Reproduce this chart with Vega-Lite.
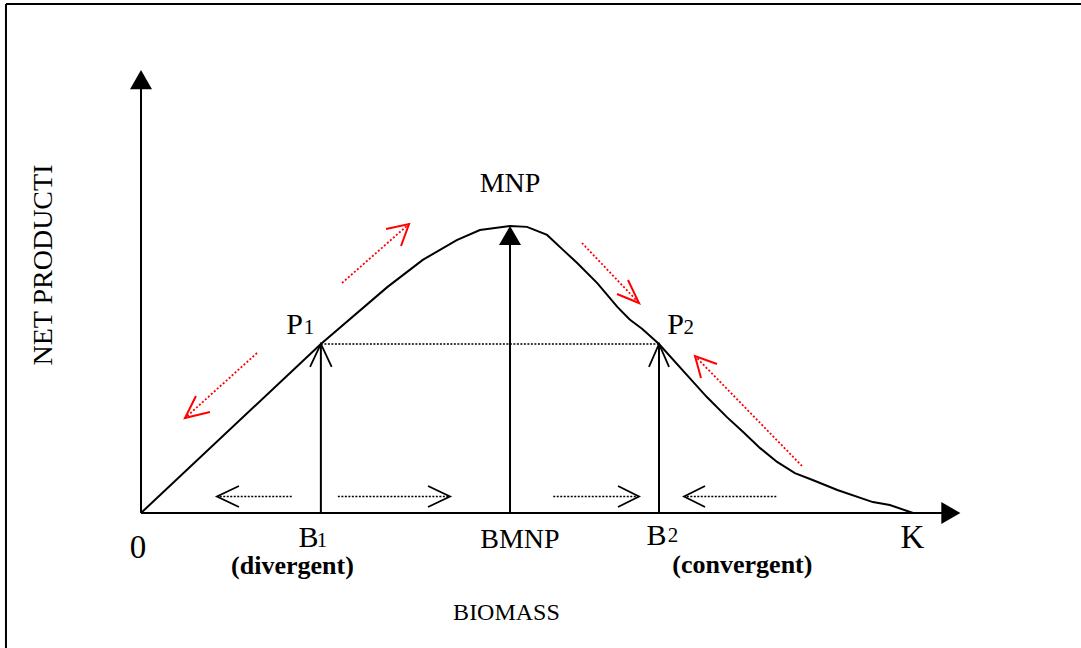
{
  "$schema": "https://vega.github.io/schema/vega-lite/v6.json",
  "width": 1081,
  "height": 648,
  "padding": 0,
  "autosize": {"type": "none"},
  "background": "white",
  "config": {"view": {"stroke": null}, "font": "Liberation Serif"},
  "datasets": {
    "curve": [
      {"biomass": 0, "production": 0},
      {"biomass": 23.3, "production": 58.9},
      {"biomass": 31.9, "production": 78.7},
      {"biomass": 36.5, "production": 88.2},
      {"biomass": 40.9, "production": 95.1},
      {"biomass": 43.9, "production": 98.6},
      {"biomass": 47.8, "production": 100},
      {"biomass": 50.0, "production": 99.7},
      {"biomass": 52.6, "production": 96.9},
      {"biomass": 54.7, "production": 91.6},
      {"biomass": 56.5, "production": 87.1},
      {"biomass": 59.1, "production": 80.1},
      {"biomass": 61.7, "production": 71.8},
      {"biomass": 63.3, "production": 67.4},
      {"biomass": 64.9, "production": 64.2},
      {"biomass": 67.1, "production": 58.9},
      {"biomass": 70.7, "production": 48.1},
      {"biomass": 73.3, "production": 40.4},
      {"biomass": 75.9, "production": 33.4},
      {"biomass": 78.0, "production": 28.2},
      {"biomass": 80.2, "production": 22.6},
      {"biomass": 82.4, "production": 17.8},
      {"biomass": 84.7, "production": 13.9},
      {"biomass": 87.0, "production": 11.5},
      {"biomass": 90.2, "production": 8.0},
      {"biomass": 94.8, "production": 3.8},
      {"biomass": 97.0, "production": 2.8},
      {"biomass": 100, "production": 0}
    ],
    "lines": [
      {"name": "frame top", "biomass": -17.49, "production": 177.35, "biomass2": 121.76, "production2": 177.35},
      {"name": "frame left", "biomass": -17.49, "production": -47.04, "biomass2": -17.49, "production2": 177.35},
      {"name": "y axis", "biomass": 0, "production": 0, "biomass2": 0, "production2": 147.7},
      {"name": "x axis", "biomass": 0, "production": 0, "biomass2": 103.8, "production2": 0},
      {"name": "B1", "biomass": 23.3, "production": 0, "biomass2": 23.3, "production2": 58.9},
      {"name": "BMNP", "biomass": 47.8, "production": 0, "biomass2": 47.8, "production2": 93.4},
      {"name": "B2", "biomass": 67.1, "production": 0, "biomass2": 67.1, "production2": 58.9}
    ],
    "heads": [
      {"name": "y axis", "biomass": 0, "production": 151.0, "dir": "up"},
      {"name": "x axis", "biomass": 104.9, "production": 0, "dir": "right"},
      {"name": "MNP", "biomass": 47.8, "production": 96.7, "dir": "up"}
    ],
    "chevrons": [
      {"arrow": "B1", "k": 0, "biomass": 21.9, "production": 50.9},
      {"arrow": "B1", "k": 1, "biomass": 23.3, "production": 58.9},
      {"arrow": "B1", "k": 2, "biomass": 24.7, "production": 50.9},
      {"arrow": "B2", "k": 0, "biomass": 65.8, "production": 50.9},
      {"arrow": "B2", "k": 1, "biomass": 67.1, "production": 58.9},
      {"arrow": "B2", "k": 2, "biomass": 68.4, "production": 50.9},
      {"arrow": "A1", "k": 0, "biomass": 12.69, "production": 9.41},
      {"arrow": "A1", "k": 1, "biomass": 9.84, "production": 5.75},
      {"arrow": "A1", "k": 2, "biomass": 12.69, "production": 2.09},
      {"arrow": "A2", "k": 0, "biomass": 37.18, "production": 9.41},
      {"arrow": "A2", "k": 1, "biomass": 40.03, "production": 5.75},
      {"arrow": "A2", "k": 2, "biomass": 37.18, "production": 2.09},
      {"arrow": "A3", "k": 0, "biomass": 61.79, "production": 9.41},
      {"arrow": "A3", "k": 1, "biomass": 64.51, "production": 5.75},
      {"arrow": "A3", "k": 2, "biomass": 61.79, "production": 2.09},
      {"arrow": "A4", "k": 0, "biomass": 73.06, "production": 9.41},
      {"arrow": "A4", "k": 1, "biomass": 70.34, "production": 5.75},
      {"arrow": "A4", "k": 2, "biomass": 73.06, "production": 2.09}
    ],
    "dotted": [
      {"name": "P1-P2", "biomass": 23.3, "production": 58.9, "biomass2": 67.1, "production2": 58.9},
      {"name": "A1", "biomass": 10.2, "production": 5.75, "biomass2": 19.7, "production2": 5.75},
      {"name": "A2", "biomass": 25.5, "production": 5.75, "biomass2": 40.0, "production2": 5.75},
      {"name": "A3", "biomass": 53.4, "production": 5.75, "biomass2": 64.5, "production2": 5.75},
      {"name": "A4", "biomass": 70.7, "production": 5.75, "biomass2": 82.4, "production2": 5.75}
    ],
    "redShafts": [
      {"name": "R1", "biomass": 15.03, "production": 55.75, "biomass2": 5.70, "production2": 33.1},
      {"name": "R2", "biomass": 26.04, "production": 80.14, "biomass2": 34.72, "production2": 100.70},
      {"name": "R3", "biomass": 57.12, "production": 94.08, "biomass2": 64.51, "production2": 73.17},
      {"name": "R4", "biomass": 85.62, "production": 16.38, "biomass2": 71.76, "production2": 54.70}
    ],
    "redHeads": [
      {"arrow": "R1", "k": 0, "biomass": 7.12, "production": 40.77},
      {"arrow": "R1", "k": 1, "biomass": 5.70, "production": 33.1},
      {"arrow": "R1", "k": 2, "biomass": 8.94, "production": 35.19},
      {"arrow": "R2", "k": 0, "biomass": 31.74, "production": 98.95},
      {"arrow": "R2", "k": 1, "biomass": 34.72, "production": 100.70},
      {"arrow": "R2", "k": 2, "biomass": 33.68, "production": 93.03},
      {"arrow": "R3", "k": 0, "biomass": 61.66, "production": 76.31},
      {"arrow": "R3", "k": 1, "biomass": 64.51, "production": 73.17},
      {"arrow": "R3", "k": 2, "biomass": 63.08, "production": 81.18},
      {"arrow": "R4", "k": 0, "biomass": 74.61, "production": 51.92},
      {"arrow": "R4", "k": 1, "biomass": 71.76, "production": 54.70},
      {"arrow": "R4", "k": 2, "biomass": 72.54, "production": 47.04}
    ],
    "labels": [
      {"role": "mark", "label": "MNP", "biomass": 47.8, "production": 111.85},
      {"role": "mark", "label": "BMNP", "biomass": 49.09, "production": -12.2},
      {"role": "point", "label": "P", "biomass": 19.88, "production": 62.37},
      {"role": "point", "label": "P", "biomass": 69.24, "production": 62.37},
      {"role": "point", "label": "B", "biomass": 21.7, "production": -11.85},
      {"role": "point", "label": "B", "biomass": 66.77, "production": -11.15},
      {"role": "subscript", "label": "1", "biomass": 21.75, "production": 62.37},
      {"role": "subscript", "label": "2", "biomass": 70.95, "production": 62.37},
      {"role": "subscript", "label": "1", "biomass": 23.45, "production": -11.85},
      {"role": "subscript", "label": "2", "biomass": 68.9, "production": -10.1},
      {"role": "end", "label": "0", "biomass": -0.39, "production": -15.68},
      {"role": "end", "label": "K", "biomass": 99.94, "production": -12.2},
      {"role": "note", "label": "(divergent)", "biomass": 19.62, "production": -21.25},
      {"role": "note", "label": "(convergent)", "biomass": 77.9, "production": -20.9},
      {"role": "xtitle", "label": "BIOMASS", "biomass": 47.34, "production": -37.28},
      {"role": "ytitle", "label": "NET PRODUCTI", "biomass": -11.53, "production": 86.41}
    ]
  },
  "encoding": {
    "x": {"field": "biomass", "type": "quantitative", "scale": {"domain": [-18.264, 121.762], "nice": false, "zero": false}, "axis": null},
    "y": {"field": "production", "type": "quantitative", "scale": {"domain": [-47.04, 178.75], "nice": false, "zero": false}, "axis": null}
  },
  "layer": [
    {
      "data": {"name": "lines"},
      "mark": {"type": "rule", "color": "black", "strokeWidth": 2},
      "encoding": {"x2": {"field": "biomass2"}, "y2": {"field": "production2"}}
    },
    {
      "data": {"name": "dotted"},
      "mark": {"type": "rule", "color": "black", "strokeWidth": 1.6, "strokeDash": [2, 1.5]},
      "encoding": {"x2": {"field": "biomass2"}, "y2": {"field": "production2"}}
    },
    {
      "data": {"name": "curve"},
      "mark": {"type": "line", "color": "black", "strokeWidth": 2, "interpolate": "linear"},
      "encoding": {}
    },
    {
      "data": {"name": "chevrons"},
      "mark": {"type": "line", "color": "black", "strokeWidth": 1.8},
      "encoding": {"detail": {"field": "arrow"}, "order": {"field": "k", "type": "quantitative"}}
    },
    {
      "data": {"name": "heads"},
      "mark": {"type": "point", "filled": true, "color": "black", "opacity": 1, "size": 484, "strokeWidth": 0},
      "encoding": {"shape": {"field": "dir", "type": "nominal", "scale": {"domain": ["up", "right"], "range": ["triangle-up", "triangle-right"]}, "legend": null}}
    },
    {
      "data": {"name": "redShafts"},
      "mark": {"type": "rule", "color": "#ff0000", "strokeWidth": 1.8, "strokeDash": [2, 2]},
      "encoding": {"x2": {"field": "biomass2"}, "y2": {"field": "production2"}}
    },
    {
      "data": {"name": "redHeads"},
      "mark": {"type": "line", "color": "#ff0000", "strokeWidth": 2},
      "encoding": {"detail": {"field": "arrow"}, "order": {"field": "k", "type": "quantitative"}}
    },
    {
      "data": {"name": "labels"},
      "transform": [{"filter": "datum.role === 'mark'"}],
      "mark": {"type": "text", "font": "Liberation Serif", "fontSize": 28, "align": "center", "baseline": "alphabetic", "color": "black"},
      "encoding": {"text": {"field": "label"}}
    },
    {
      "data": {"name": "labels"},
      "transform": [{"filter": "datum.role === 'point'"}],
      "mark": {"type": "text", "font": "Liberation Serif", "fontSize": 30, "align": "center", "baseline": "alphabetic", "color": "black"},
      "encoding": {"text": {"field": "label"}}
    },
    {
      "data": {"name": "labels"},
      "transform": [{"filter": "datum.role === 'subscript'"}],
      "mark": {"type": "text", "font": "Liberation Serif", "fontSize": 21, "align": "center", "baseline": "alphabetic", "color": "black"},
      "encoding": {"text": {"field": "label"}}
    },
    {
      "data": {"name": "labels"},
      "transform": [{"filter": "datum.role === 'end'"}],
      "mark": {"type": "text", "font": "Liberation Serif", "fontSize": 33, "align": "center", "baseline": "alphabetic", "color": "black"},
      "encoding": {"text": {"field": "label"}}
    },
    {
      "data": {"name": "labels"},
      "transform": [{"filter": "datum.role === 'note'"}],
      "mark": {"type": "text", "font": "Liberation Serif", "fontSize": 26, "fontWeight": "bold", "align": "center", "baseline": "alphabetic", "color": "black"},
      "encoding": {"text": {"field": "label"}}
    },
    {
      "data": {"name": "labels"},
      "transform": [{"filter": "datum.role === 'xtitle'"}],
      "mark": {"type": "text", "font": "Liberation Serif", "fontSize": 24, "align": "center", "baseline": "alphabetic", "color": "black"},
      "encoding": {"text": {"field": "label"}}
    },
    {
      "data": {"name": "labels"},
      "transform": [{"filter": "datum.role === 'ytitle'"}],
      "mark": {"type": "text", "font": "Liberation Serif", "fontSize": 28, "angle": 270, "align": "center", "baseline": "alphabetic", "color": "black"},
      "encoding": {"text": {"field": "label"}}
    }
  ]
}
